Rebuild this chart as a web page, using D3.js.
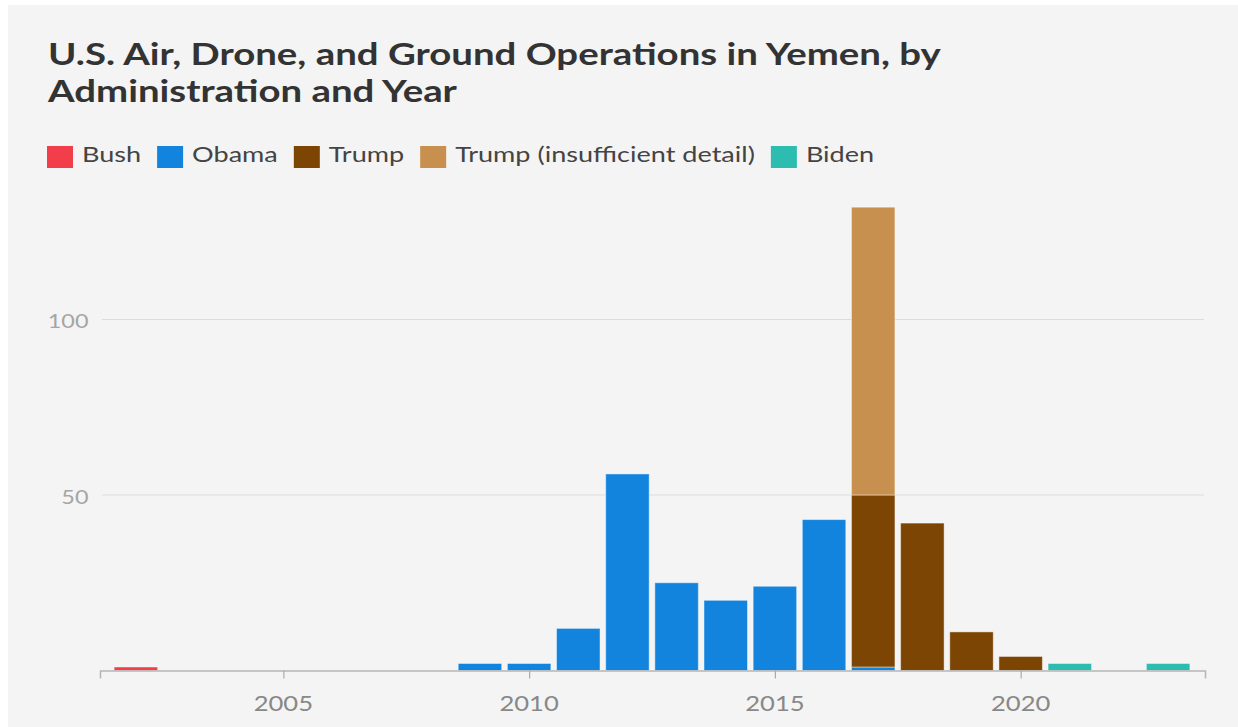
<!DOCTYPE html>
<html>
<head>
<meta charset="utf-8">
<script src="https://cdn.jsdelivr.net/npm/d3@7"></script>
<style>
  body { margin: 0; background: #fff; }
  svg text { font-family: Lato, "Open Sans", sans-serif; }
</style>
</head>
<body>
<script>
// chart size
var width = 1238;
var height = 727;

// data
var years = [2002, 2003, 2004, 2005, 2006, 2007, 2008, 2009, 2010, 2011, 2012,
             2013, 2014, 2015, 2016, 2017, 2018, 2019, 2020, 2021, 2022, 2023];
var bush              = [1, 0, 0, 0, 0, 0, 0, 0, 0, 0, 0, 0, 0, 0, 0, 0, 0, 0, 0, 0, 0, 0];
var obama             = [0, 0, 0, 0, 0, 0, 0, 2, 2, 12, 56, 25, 20, 24, 43, 1, 0, 0, 0, 0, 0, 0];
var trump             = [0, 0, 0, 0, 0, 0, 0, 0, 0, 0, 0, 0, 0, 0, 0, 49, 42, 11, 4, 0, 0, 0];
var trumpInsufficient = [0, 0, 0, 0, 0, 0, 0, 0, 0, 0, 0, 0, 0, 0, 0, 82, 0, 0, 0, 0, 0, 0];
var biden             = [0, 0, 0, 0, 0, 0, 0, 0, 0, 0, 0, 0, 0, 0, 0, 0, 0, 0, 0, 2, 0, 2];

var seriesKeys   = ['bush', 'obama', 'trump', 'trumpInsufficient', 'biden'];
var seriesLabels = ['Bush', 'Obama', 'Trump', 'Trump (insufficient detail)', 'Biden'];
var seriesColors = ['#f23e4b', '#1384de', '#7c4504', '#c8904f', '#2dbcb0'];

var xTicks = [2005, 2010, 2015, 2020];
var yTicks = [50, 100];

// the original font is wider than Lato, so text gets stretched sideways
var titleStretch = 1.28;
var legendStretch = 1.32;
var xLabelStretch = 1.22;
var yLabelStretch = 1.17;

// build rows for the stack
var rows = years.map(function(yr, i) {
  return {year: yr, bush: bush[i], obama: obama[i], trump: trump[i],
          trumpInsufficient: trumpInsufficient[i], biden: biden[i]};
});

var svg = d3.select('body').append('svg')
  .attr('width', width)
  .attr('height', height);

// grey panel
svg.append('rect')
  .attr('x', 8)
  .attr('y', 5)
  .attr('width', width - 8)
  .attr('height', height - 5)
  .attr('fill', '#f4f4f4');

// title
var title = svg.append('text')
  .attr('transform', 'translate(48,65) scale(' + titleStretch + ',1)')
  .attr('fill', '#333')
  .style('font-size', '30px')
  .style('font-weight', 700);
title.append('tspan').attr('x', 0).text('U.S. Air, Drone, and Ground Operations in Yemen, by');
title.append('tspan').attr('x', 0).attr('dy', 36.7).text('Administration and Year');

// scales
var x = d3.scaleLinear()
  .domain([2001.27, 2023.75])
  .range([100, 1205]);

var y = d3.scaleLinear()
  .domain([0, 100])
  .range([670.5, 319.5]);

var color = d3.scaleOrdinal().domain(seriesKeys).range(seriesColors);

// legend
var legend = svg.append('g').attr('transform', 'translate(47,146)');
var lx = 0;
seriesKeys.forEach(function(key, i) {
  var item = legend.append('g').attr('transform', 'translate(' + lx + ',0)');
  item.append('rect')
    .attr('width', 26)
    .attr('height', 22)
    .attr('fill', color(key));
  var t = item.append('text')
    .attr('transform', 'translate(35,16) scale(' + legendStretch + ',1)')
    .attr('fill', '#444')
    .style('font-size', '20.5px')
    .text(seriesLabels[i]);
  lx += 35 + t.node().getComputedTextLength() * legendStretch + 16;
});

// gridlines
svg.append('g').selectAll('line')
  .data(yTicks)
  .enter().append('line')
  .attr('x1', 102)
  .attr('x2', 1204)
  .attr('y1', function(d) { return y(d); })
  .attr('y2', function(d) { return y(d); })
  .attr('stroke', '#dcdcdc')
  .attr('stroke-width', 1.2);

svg.append('g').selectAll('text')
  .data(yTicks)
  .enter().append('text')
  .attr('transform', function(d) { return 'translate(88.5,' + (y(d) + 8.5) + ') scale(' + yLabelStretch + ',1)'; })
  .attr('text-anchor', 'end')
  .attr('fill', '#a5a5a5')
  .style('font-size', '20px')
  .text(function(d) { return d; });

// bars
var stacked = d3.stack().keys(seriesKeys)(rows);
var barW = 43.5;

svg.append('g').selectAll('g')
  .data(stacked)
  .enter().append('g')
  .attr('fill', function(d) { return color(d.key); })
  .selectAll('rect')
  .data(function(d) { return d.filter(function(p) { return p[1] > p[0]; }); })
  .enter().append('rect')
  .attr('x', function(d) { return x(d.data.year) - barW / 2; })
  .attr('width', barW)
  .attr('y', function(d) { return y(d[1]); })
  .attr('height', function(d) { return y(d[0]) - y(d[1]); })
  .attr('stroke', 'rgba(255,255,255,0.45)')
  .attr('stroke-width', 1);

// x axis
var xAxis = svg.append('g')
  .attr('transform', 'translate(0,' + y(0) + ')')
  .call(d3.axisBottom(x).tickValues(xTicks).tickFormat('').tickSize(8));

xAxis.select('.domain').attr('stroke', '#b5b5b5').attr('stroke-width', 1.5);
xAxis.selectAll('.tick line').attr('stroke', '#aaa').attr('stroke-width', 1.2);

svg.append('g').selectAll('text')
  .data(xTicks)
  .enter().append('text')
  .attr('transform', function(d) { return 'translate(' + x(d) + ',' + (y(0) + 40) + ') scale(' + xLabelStretch + ',1)'; })
  .attr('text-anchor', 'middle')
  .attr('fill', '#888')
  .style('font-size', '21px')
  .text(function(d) { return d; });
</script>
</body>
</html>
